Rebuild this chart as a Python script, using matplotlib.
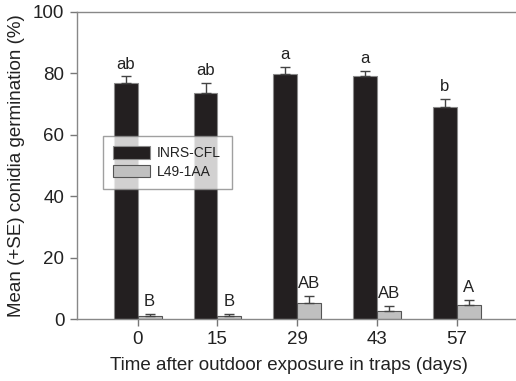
import matplotlib
matplotlib.use("Agg")
import matplotlib.pyplot as plt
import numpy as np

days = ["0", "15", "29", "43", "57"]
inrs = [77.0, 73.7, 79.7, 79.2, 69.1]
inrs_se = [2.0, 3.2, 2.5, 1.6, 2.6]
l49 = [1.0, 0.9, 5.2, 2.7, 4.6]
l49_se = [0.5, 0.7, 2.3, 1.6, 1.5]
inrs_letters = ["ab", "ab", "a", "a", "b"]
l49_letters = ["B", "B", "AB", "AB", "A"]

plt.rcParams['font.family'] = ['Liberation Sans', 'DejaVu Sans']

fig = plt.figure(figsize=(5.16, 3.81), dpi=100)
ax = fig.add_axes([77/516, 1-319/381, 1-77/516, (319-12)/381])

x = np.arange(len(days))
w = 0.3
ec = '#444444'
ekw = dict(ecolor=ec, elinewidth=1, capsize=3.6, capthick=1)
ax.bar(x - w/2, inrs, w, color='#231f20', edgecolor='#8a8a8a', linewidth=0.8,
       yerr=[np.zeros(len(inrs)), inrs_se], error_kw=ekw,
       label='INRS-CFL', zorder=2)
ax.bar(x + w/2, l49, w, color='#c0c0c0', edgecolor='#555555', linewidth=0.8,
       yerr=[np.zeros(len(l49)), l49_se], error_kw=ekw,
       label='L49-1AA', zorder=2)

for i in range(len(days)):
    ax.text(x[i] - w/2, inrs[i] + inrs_se[i] + 1.6, inrs_letters[i], ha='center', va='bottom',
            fontsize=12, color='#222222')
    ax.text(x[i] + w/2, l49[i] + l49_se[i] + 1.6, l49_letters[i], ha='center', va='bottom',
            fontsize=12, color='#222222')

ax.set_xlim(-0.76, 4.74)
ax.set_ylim(0, 100)
ax.set_xticks(x)
ax.set_xticklabels(days)
ax.set_yticks([0, 20, 40, 60, 80, 100])
ax.tick_params(direction='out', length=5, width=1, color='#777777', labelsize=13.5,
               labelcolor='#222222', pad=4)
for s in ['left', 'bottom', 'top']:
    ax.spines[s].set_color('#888888')
    ax.spines[s].set_linewidth(1)
ax.spines['right'].set_visible(False)

ax.set_xlabel('Time after outdoor exposure in traps (days)', fontsize=13.5, color='#222222', labelpad=7)
ax.xaxis.set_label_coords(0.483, -0.125)
ax.set_ylabel('Mean (+SE) conidia germination (%)', fontsize=13.5, color='#222222', labelpad=6)

leg = ax.legend(loc='upper left', bbox_to_anchor=((103-77)/(516-77), 1-(136-12)/307),
                fontsize=10, frameon=True, fancybox=False, handlelength=2.6, handleheight=1.0,
                borderpad=0.75, labelspacing=0.3, handletextpad=0.55, borderaxespad=0)
leg.get_frame().set_edgecolor('#888888')
leg.get_frame().set_linewidth(1)
for t in leg.get_texts():
    t.set_color('#222222')

fig.savefig('out.png', dpi=100)
